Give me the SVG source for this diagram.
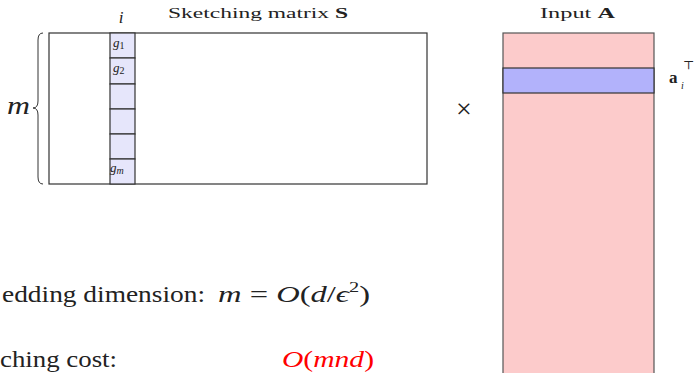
<svg xmlns="http://www.w3.org/2000/svg" width="695" height="373" viewBox="0 0 695 373">
<style>
text{font-family:"Liberation Serif","DejaVu Serif",serif;fill:#222}
.lbl{font-size:14.5px}
.big{font-size:24px}
.it{font-style:italic}
.cell{fill:#e6e6fb;stroke:#333;stroke-width:1.2}
.sub{font-size:13px}
</style>
<rect width="695" height="373" fill="#fff"/>
<g id="matrixS">
<rect x="49" y="33" width="378" height="151" fill="#fff" stroke="#333" stroke-width="1.2"/>
<rect class="cell" x="110" y="33" width="25" height="25"/>
<rect class="cell" x="110" y="58" width="25" height="26"/>
<rect class="cell" x="110" y="84" width="25" height="25"/>
<rect class="cell" x="110" y="109" width="25" height="25"/>
<rect class="cell" x="110" y="134" width="25" height="25"/>
<rect class="cell" x="110" y="159" width="25" height="25"/>
<text class="sub it" x="113" y="47">g<tspan font-size="10" font-style="normal" dy="2">1</tspan></text>
<text class="sub it" x="113" y="72">g<tspan font-size="10" font-style="normal" dy="2">2</tspan></text>
<text class="sub it" x="110" y="172">g<tspan font-size="10" dy="2">m</tspan></text>
<text class="it" x="121" y="23" text-anchor="middle" font-size="17">i</text>
<text class="lbl" x="168" y="18" textLength="180" lengthAdjust="spacingAndGlyphs">Sketching matrix <tspan font-weight="bold">S</tspan></text>
</g>
<g id="brace">
<path d="M43,33 Q38,33 38,40 L38,101 Q38,108 33,108 Q38,108 38,115 L38,177 Q38,184 43,184" fill="none" stroke="#333" stroke-width="1"/>
<text class="it" x="7" y="114" font-size="26" textLength="23" lengthAdjust="spacingAndGlyphs">m</text>
</g>
<text x="464" y="118" text-anchor="middle" font-size="28" fill="#444">×</text>
<g id="matrixA">
<rect x="503" y="33" width="151" height="345" fill="#fccbcb" stroke="#555" stroke-width="1.2"/>
<rect x="503" y="68" width="151" height="25" fill="#b2b2fb" stroke="#333" stroke-width="1.2"/>
<text class="lbl" x="540" y="18" textLength="75" lengthAdjust="spacingAndGlyphs">Input <tspan font-weight="bold">A</tspan></text>
<text x="669" y="83" font-size="17" font-weight="bold">a</text>
<text x="683" y="69" font-size="12">⊤</text>
<text x="681" y="89" font-size="10" font-style="italic">i</text>
</g>
<g id="bottomText">
<text class="big" x="2" y="302" textLength="203" lengthAdjust="spacingAndGlyphs">edding dimension:</text>
<text class="big" x="218" y="302" textLength="152" lengthAdjust="spacingAndGlyphs"><tspan font-style="italic">m</tspan> = <tspan font-style="italic">O</tspan>(<tspan font-style="italic">d</tspan>/<tspan font-style="italic">ϵ</tspan><tspan font-size="15" dy="-10">2</tspan><tspan dy="10">)</tspan></text>
<text class="big" x="0" y="367" textLength="117" lengthAdjust="spacingAndGlyphs">ching cost:</text>
<text class="big it" x="282" y="367" style="fill:#f00" textLength="92" lengthAdjust="spacingAndGlyphs">O<tspan font-style="normal">(</tspan>mnd<tspan font-style="normal">)</tspan></text>
</g>
</svg>
